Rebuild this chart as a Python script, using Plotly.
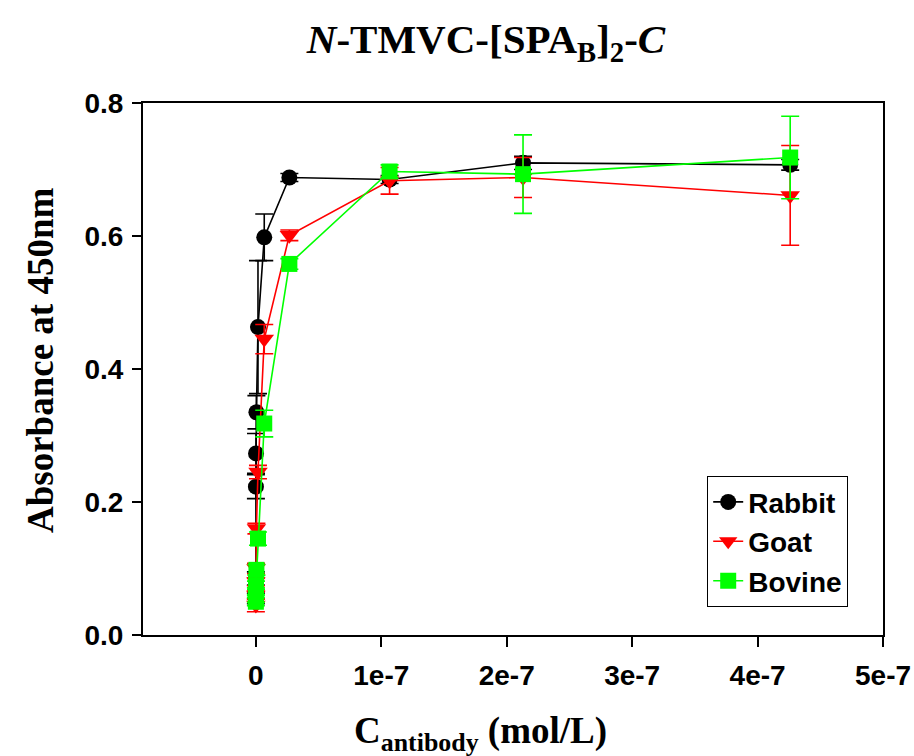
import plotly.graph_objects as go

# Antibody concentration (mol/L), fourfold dilution series
conc = [4.26e-7, 2.13e-7, 1.066e-7, 2.67e-8, 6.67e-9, 1.67e-9, 4.2e-10, 1.04e-10, 2.6e-11, 6.5e-12, 1.6e-12]

rabbit = [0.707, 0.710, 0.685, 0.688, 0.598, 0.463, 0.335, 0.273, 0.223, 0.085, 0.055]
rabbit_err = [0.008, 0.010, 0.006, 0.006, 0.035, 0.100, 0.025, 0.030, 0.018, 0.010, 0.008]

goat = [0.661, 0.688, 0.683, 0.601, 0.445, 0.245, 0.160, 0.100, 0.080, 0.060, 0.045]
goat_err = [0.075, 0.030, 0.020, 0.008, 0.022, 0.010, 0.008, 0.008, 0.006, 0.006, 0.010]

bovine = [0.718, 0.693, 0.697, 0.558, 0.318, 0.145, 0.098, 0.075, 0.065, 0.055, 0.050]
bovine_err = [0.062, 0.059, 0.010, 0.008, 0.020, 0.010, 0.008, 0.006, 0.006, 0.006, 0.006]

x_tickvals = [0, 1e-7, 2e-7, 3e-7, 4e-7, 5e-7]
x_ticktext = ["0", "1e-7", "2e-7", "3e-7", "4e-7", "5e-7"]
y_tickvals = [0.0, 0.2, 0.4, 0.6, 0.8]

series = [
    ("Rabbit", rabbit, rabbit_err, "#000000", "circle", 16),
    ("Goat", goat, goat_err, "#FF0000", "triangle-down", 17),
    ("Bovine", bovine, bovine_err, "#00FF00", "square", 16),
]

fig = go.Figure()
for name, ys, errs, color, sym, size in series:
    fig.add_trace(go.Scatter(
        x=conc, y=ys, name=name, mode="lines+markers",
        line=dict(color=color, width=1.6),
        marker=dict(symbol=sym, size=size, color=color, line=dict(width=0)),
        error_y=dict(type="data", array=errs, visible=True, color=color,
                     thickness=1.6, width=9),
    ))

serif = "Liberation Serif, Times New Roman, serif"
sans = "Liberation Sans, Arial, sans-serif"

L, R, T, B = 143, 883, 103, 635
W = R - L
H = B - T

fig.update_layout(
    width=914, height=756,
    margin=dict(l=L, r=914 - R, t=T, b=756 - B, autoexpand=False),
    paper_bgcolor="white", plot_bgcolor="white",
    showlegend=True,
    title=dict(
        text="<i>N</i>-TMVC-[SPA<sub>B</sub>]<sub>2</sub>-<i>C</i>",
        x=486 / 914, xanchor="center", y=1 - 39 / 756, yanchor="middle",
        automargin=False,
        font=dict(family=serif, size=41, color="black", weight="bold"),
    ),
    legend=dict(
        x=(707 - L) / W, xanchor="left", y=(B - 476) / H, yanchor="top",
        bgcolor="white", bordercolor="black", borderwidth=1.2,
        font=dict(family=sans, size=28, color="black", weight="bold"),
        itemsizing="trace", entrywidth=104, entrywidthmode="pixels",
    ),
    xaxis=dict(
        range=[-0.9e-7, 5e-7], tickvals=x_tickvals, ticktext=x_ticktext,
        showgrid=False, zeroline=False, automargin=False,
        showline=True, mirror=True, linecolor="black", linewidth=2,
        ticks="outside", ticklen=10, tickwidth=2, tickcolor="black",
        ticklabelstandoff=4,
        tickfont=dict(family=sans, size=28, color="black", weight="bold"),
    ),
    yaxis=dict(
        range=[0, 0.8], tickvals=y_tickvals, tickformat=".1f",
        showgrid=False, zeroline=False, automargin=False,
        showline=True, mirror=True, linecolor="black", linewidth=2,
        ticks="outside", ticklen=9, tickwidth=2, tickcolor="black",
        ticklabelstandoff=3,
        tickfont=dict(family=sans, size=28, color="black", weight="bold"),
    ),
    annotations=[
        dict(text="C<sub>antibody</sub> (mol/L)", xref="paper", yref="paper",
             x=(480 - L) / W, y=(B - 708) / H, xanchor="center", yanchor="top",
             showarrow=False, font=dict(family=serif, size=37, color="black", weight="bold")),
        dict(text="Absorbance at 450nm", xref="paper", yref="paper",
             x=(40 - L) / W, y=(B - 360) / H, xanchor="center", yanchor="middle",
             textangle=-90, showarrow=False,
             font=dict(family=serif, size=37, color="black", weight="bold")),
    ],
)

fig.write_html("out.html", config={"displayModeBar": False},
               post_script="document.body.style.margin='0';")
